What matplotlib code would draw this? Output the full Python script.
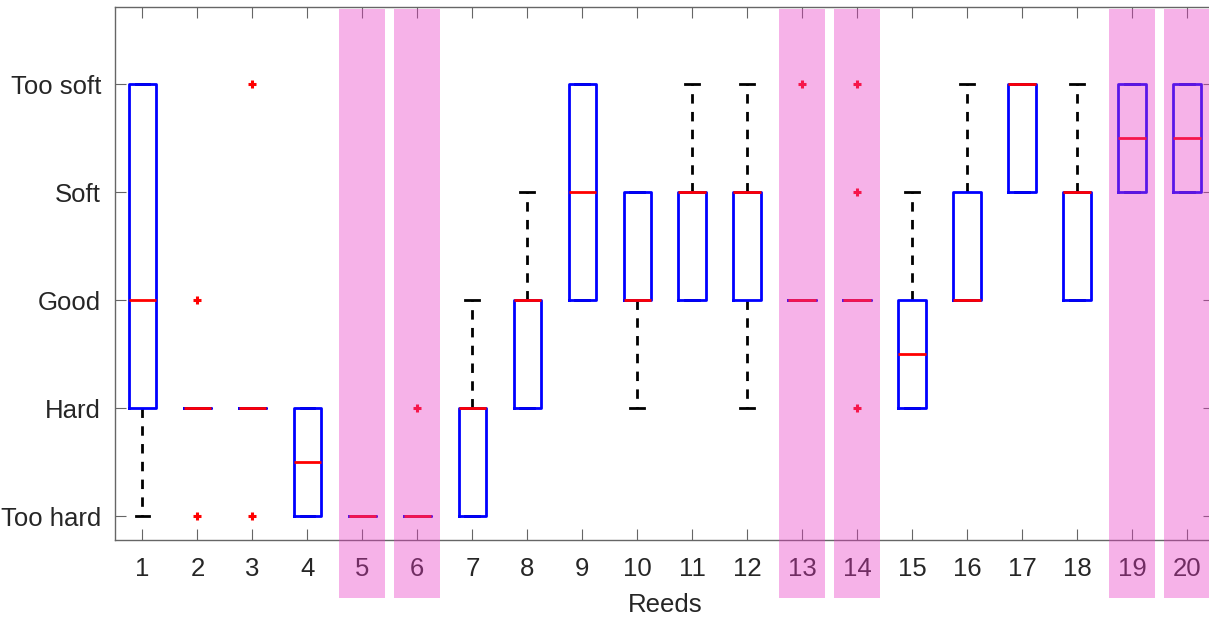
import matplotlib.pyplot as plt
from matplotlib.patches import Rectangle
import matplotlib.transforms as mtransforms

# rating scale: 1 = Too hard ... 5 = Too soft
levels = ["Too hard", "Hard", "Good", "Soft", "Too soft"]
reeds = list(range(1, 21))

# box statistics, one entry per reed
q1 = [2, 2, 2, 1, 1, 1, 1, 2, 3, 3, 3, 3, 3, 3, 2, 3, 4, 3, 4, 4]
med = [3, 2, 2, 1.5, 1, 1, 2, 3, 4, 3, 4, 4, 3, 3, 2.5, 3, 5, 4, 4.5, 4.5]
q3 = [5, 2, 2, 2, 1, 1, 2, 3, 5, 4, 4, 4, 3, 3, 3, 4, 5, 4, 5, 5]
whislo = [1, 2, 2, 1, 1, 1, 1, 2, 3, 2, 3, 2, 3, 3, 2, 3, 4, 3, 4, 4]
whishi = [5, 2, 2, 2, 1, 1, 3, 4, 5, 4, 5, 5, 3, 3, 4, 5, 5, 5, 5, 5]
fliers = [[], [3, 1], [5, 1], [], [], [2], [], [], [], [], [],
          [], [5], [5, 4, 2], [], [], [], [], [], []]

# reeds highlighted with a pink band
highlighted = [5, 6, 13, 14, 19, 20]

plt.rcParams['font.family'] = ['Liberation Sans', 'DejaVu Sans']

fig = plt.figure(figsize=(12.09, 6.2), dpi=100)
ax = fig.add_axes([115 / 1209, 80 / 620, 1099.5 / 1209, 533 / 620])

stats = []
for i in range(len(reeds)):
    stats.append(dict(med=med[i], q1=q1[i], q3=q3[i],
                      whislo=whislo[i], whishi=whishi[i], fliers=fliers[i]))

lw = 2.0
ax.bxp(stats, positions=reeds, widths=0.5, capwidths=0.25,
       showfliers=True, patch_artist=False,
       boxprops=dict(color='#0000ff', linewidth=lw, zorder=3),
       medianprops=dict(color='#ff0000', linewidth=lw, zorder=4),
       whiskerprops=dict(color='black', linewidth=lw, linestyle=(0, (3.4, 3.0)),
                         zorder=2),
       capprops=dict(color='black', linewidth=lw, zorder=2),
       flierprops=dict(marker='+', markeredgecolor='#ff0000', markersize=6,
                       markeredgewidth=2.2, linestyle='none', zorder=4))

ax.set_xlim(0.5, 20.5)
ax.set_ylim(0.778, 5.713)
ax.set_xticks(reeds)
ax.set_xticklabels([str(r) for r in reeds])
ax.set_yticks(range(1, 6))
ax.set_yticklabels(levels)
ax.set_xlabel("Reeds", fontsize=18.5, color='#262626', labelpad=9)

ax.tick_params(direction='in', length=8, width=0.8, color='#666666',
               labelsize=18.5, labelcolor='#262626', top=True, right=True)
ax.tick_params(axis='x', pad=12)
ax.tick_params(axis='y', pad=10)
for s in ax.spines.values():
    s.set_color('#666666')
    s.set_linewidth(1.0)

trans = mtransforms.blended_transform_factory(ax.transData, ax.transAxes)
for r in highlighted:
    ax.add_patch(Rectangle((r - 0.42, -0.109), 0.84, 1.105, transform=trans,
                           facecolor='#e83ac4', alpha=0.39, edgecolor='none',
                           clip_on=False, zorder=10))

fig.savefig("out.png", dpi=100)
